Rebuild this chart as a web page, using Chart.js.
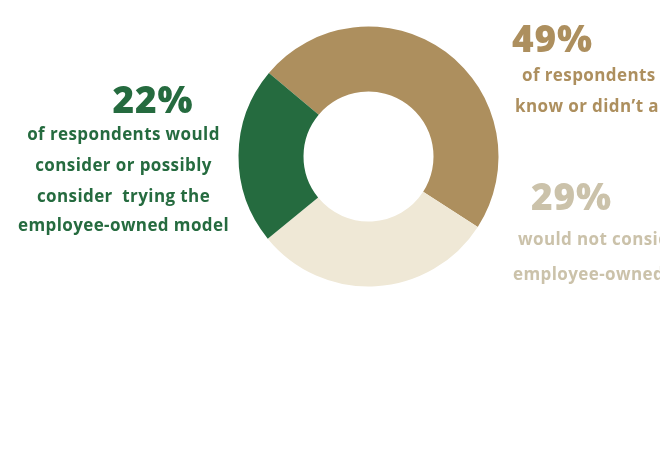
<!DOCTYPE html>
<html>
<head>
<meta charset="utf-8">
<script src="https://cdn.jsdelivr.net/npm/chart.js@4"></script>
<style>
  html, body { margin: 0; padding: 0; background: #ffffff; }
  body { width: 660px; height: 449px; overflow: hidden; position: relative; font-family: "Open Sans", sans-serif; font-weight: 700; }
  #wrap { position: absolute; left: 0; top: 0; width: 660px; height: 449px; }
  .t { position: absolute; white-space: pre; line-height: 1; }
  .pct { font-size: 37px; font-weight: 800; letter-spacing: 0.8px; }
  .body { font-size: 17px; font-weight: 700; letter-spacing: 0.4px; }
  .c { transform: translateX(-50%); text-align: center; }
</style>
</head>
<body>
<div id="wrap"><canvas id="chart" width="660" height="449"></canvas></div>
<script>
// ---- data ----
const categories = ["Know or didn't answer", "Would not consider", "Would or possibly consider"];
const shares = [48, 30, 22];
const percentLabels = ["49%", "29%", "22%"];
const sliceColors = ["#AD8F5E", "#EFE8D6", "#256B3F"];
const textColors = ["#AD8F5E", "#CBC2AA", "#256B3F"];
const captionLines = [
  ["of respondents", "know or didn\u2019t answer"],
  ["would not consider the", "employee-owned model"],
  ["of respondents would", "consider or possibly", "consider  trying the", "employee-owned model"]
];

new Chart(document.getElementById('chart'), {
  type: 'doughnut',
  data: {
    labels: categories,
    datasets: [{
      data: shares,
      backgroundColor: sliceColors,
      borderWidth: 0,
      hoverOffset: 0
    }]
  },
  options: {
    responsive: false,
    animation: false,
    rotation: -50,
    cutout: '50%',
    layout: { padding: { left: 238.5, right: 161.5, top: 26.5, bottom: 162.5 } },
    plugins: { legend: { display: false }, tooltip: { enabled: false } }
  }
});

// ---- text blocks (real HTML text) ----
function addText(str, cls, color, x, baselineY, size, center) {
  const d = document.createElement('div');
  d.className = 't ' + cls + (center ? ' c' : '');
  d.textContent = str;
  d.style.color = color;
  d.style.left = x + 'px';
  d.style.top = (baselineY - size * 0.888) + 'px';
  document.body.appendChild(d);
}
// 49% block (right, top)
addText(percentLabels[0], 'pct', textColors[0], 512, 52, 37, false);
addText(captionLines[0][0], 'body', textColors[0], 522, 81, 17, false);
addText(captionLines[0][1], 'body', textColors[0], 515, 112, 17, false);
// 29% block (right, bottom)
addText(percentLabels[1], 'pct', textColors[1], 531, 210, 37, false);
addText(captionLines[1][0], 'body', textColors[1], 518, 245, 17, false);
addText(captionLines[1][1], 'body', textColors[1], 513, 280, 17, false);
// 22% block (left)
addText(percentLabels[2], 'pct', textColors[2], 153, 113, 37, true);
const leftBase = [140, 171, 202, 231];
captionLines[2].forEach((s, i) => addText(s, 'body', textColors[2], 123.5, leftBase[i], 17, true));
</script>
</body>
</html>
